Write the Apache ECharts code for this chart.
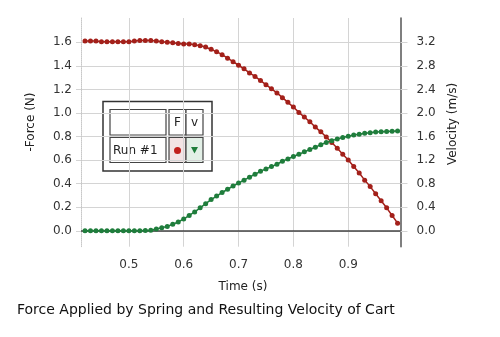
<!DOCTYPE html>
<html>
<head>
<meta charset="utf-8">
<script src="https://cdn.jsdelivr.net/npm/echarts@6/dist/echarts.min.js"></script>
<style>html,body{margin:0;padding:0;background:#fff}#c{width:500px;height:337px}</style>
</head>
<body>
<div id="c"></div>
<script>
const time = [0.42,0.43,0.44,0.45,0.46,0.47,0.48,0.49,0.50,0.51,0.52,0.53,0.54,0.55,0.56,0.57,0.58,0.59,0.60,0.61,0.62,0.63,0.64,0.65,0.66,0.67,0.68,0.69,0.70,0.71,0.72,0.73,0.74,0.75,0.76,0.77,0.78,0.79,0.80,0.81,0.82,0.83,0.84,0.85,0.86,0.87,0.88,0.89,0.90,0.91,0.92,0.93,0.94,0.95,0.96,0.97,0.98,0.99];
const force = [1.61,1.61,1.61,1.605,1.605,1.605,1.605,1.605,1.605,1.61,1.615,1.615,1.615,1.61,1.605,1.60,1.595,1.59,1.585,1.585,1.58,1.57,1.56,1.54,1.52,1.495,1.465,1.435,1.405,1.375,1.34,1.31,1.275,1.24,1.205,1.17,1.13,1.09,1.05,1.005,0.965,0.925,0.88,0.84,0.795,0.75,0.70,0.65,0.60,0.545,0.49,0.43,0.375,0.315,0.255,0.195,0.13,0.065];
const velocity = [0,0,0,0,0,0,0,0,0,0,0,0.005,0.01,0.03,0.05,0.075,0.11,0.15,0.20,0.26,0.32,0.39,0.46,0.53,0.59,0.65,0.705,0.76,0.81,0.86,0.91,0.96,1.01,1.05,1.09,1.13,1.18,1.22,1.26,1.30,1.34,1.38,1.42,1.46,1.50,1.53,1.56,1.585,1.605,1.625,1.64,1.655,1.665,1.675,1.68,1.685,1.69,1.695];
const xTicks = [0.5,0.6,0.7,0.8,0.9];
const forceTicks = [0,0.2,0.4,0.6,0.8,1.0,1.2,1.4,1.6];
const velTicks = [0,0.4,0.8,1.2,1.6,2.0,2.4,2.8,3.2];

const FONT = 'DejaVu Sans';
const RED = '#a3201a';
const GREEN = '#1f7d3c';
const GRID = '#d4d4d4';

const chart = echarts.init(document.getElementById('c'), null, {renderer: 'canvas'});
const fMin = -0.135, fMax = 1.806;
chart.setOption({
  animation: false,
  grid: {left: 81, right: 99.5, top: 18, bottom: 90.3, containLabel: false},
  xAxis: {
    type: 'value', min: 0.4127, max: 0.9953,
    axisLine: {show: true, lineStyle: {color: '#c8c8c8', type: 'dotted', width: 1}},
    axisTick: {show: true, customValues: xTicks, length: 5, lineStyle: {color: GRID}},
    axisLabel: {customValues: xTicks, margin: 12, fontFamily: FONT, fontSize: 12, color: '#333',
      formatter: v => v.toFixed(1)},
    splitLine: {show: true, lineStyle: {color: GRID, width: 1}}
  },
  yAxis: [{
    type: 'value', min: fMin, max: fMax, position: 'left',
    axisLine: {show: true, lineStyle: {color: '#c8c8c8', type: 'dotted', width: 1}},
    axisTick: {show: true, customValues: forceTicks, length: 5, lineStyle: {color: GRID}},
    axisLabel: {customValues: forceTicks, margin: 9, fontFamily: FONT, fontSize: 12, color: '#333',
      formatter: v => v.toFixed(1)},
    splitLine: {show: true, lineStyle: {color: GRID, width: 1}}
  }, {
    type: 'value', min: fMin * 2, max: fMax * 2, position: 'right',
    axisLine: {show: true, lineStyle: {color: '#555', width: 1.5}},
    axisTick: {show: true, customValues: velTicks, length: 7, lineStyle: {color: GRID}},
    axisLabel: {customValues: velTicks, margin: 16, fontFamily: FONT, fontSize: 12, color: '#333',
      formatter: v => v.toFixed(1)},
    splitLine: {show: false}
  }],
  series: [{
    name: 'F', type: 'line', yAxisIndex: 0,
    data: time.map((t, i) => [t, force[i]]),
    symbol: 'circle', symbolSize: 5, showSymbol: true,
    itemStyle: {color: RED}, lineStyle: {color: RED, width: 1.5},
    z: 3,
    markLine: {silent: true, symbol: 'none', label: {show: false},
      lineStyle: {color: '#444', width: 1.5, type: 'solid'}, data: [{yAxis: 0}], z: 1}
  }, {
    name: 'v', type: 'line', yAxisIndex: 1,
    data: time.map((t, i) => [t, velocity[i]]),
    symbol: 'circle', symbolSize: 5, showSymbol: true,
    itemStyle: {color: GREEN}, lineStyle: {color: GREEN, width: 1.5},
    z: 4
  }],
  graphic: [
    {type: 'text', rotation: Math.PI / 2, x: 31, y: 122,
      style: {text: '-Force (N)', font: '12px ' + FONT, fill: '#222', align: 'center', verticalAlign: 'middle'}},
    {type: 'text', rotation: Math.PI / 2, x: 453, y: 124,
      style: {text: 'Velocity (m/s)', font: '12px ' + FONT, fill: '#222', align: 'center', verticalAlign: 'middle'}},
    {type: 'text', x: 243, y: 287,
      style: {text: 'Time (s)', font: '12px ' + FONT, fill: '#222', align: 'center', verticalAlign: 'middle'}},
    {type: 'text', x: 17, y: 310,
      style: {text: 'Force Applied by Spring and Resulting Velocity of Cart', font: '14px ' + FONT, fill: '#111', align: 'left', verticalAlign: 'middle'}},
    {type: 'group', z: 100, children: [
      {type: 'rect', shape: {x: 103, y: 101.5, width: 109, height: 69.5}, style: {fill: '#fff', stroke: '#333', lineWidth: 1.5}},
      {type: 'rect', shape: {x: 110, y: 109.5, width: 56, height: 25.5}, style: {fill: '#fff', stroke: '#444', lineWidth: 1.2}},
      {type: 'rect', shape: {x: 110, y: 137.5, width: 56, height: 25}, style: {fill: '#fff', stroke: '#444', lineWidth: 1.2}},
      {type: 'rect', shape: {x: 169, y: 109.5, width: 17, height: 25.5}, style: {fill: '#fff', stroke: '#444', lineWidth: 1.2}},
      {type: 'rect', shape: {x: 186, y: 109.5, width: 17, height: 25.5}, style: {fill: '#fff', stroke: '#444', lineWidth: 1.2}},
      {type: 'rect', shape: {x: 169, y: 137.5, width: 17, height: 25}, style: {fill: '#f2e4e4', stroke: '#444', lineWidth: 1.2}},
      {type: 'rect', shape: {x: 186, y: 137.5, width: 17, height: 25}, style: {fill: '#e3f0e7', stroke: '#444', lineWidth: 1.2}},
      {type: 'text', x: 113, y: 150.5, style: {text: 'Run #1', font: '12px ' + FONT, fill: '#222', align: 'left', verticalAlign: 'middle'}},
      {type: 'text', x: 177.5, y: 122.5, style: {text: 'F', font: '12px ' + FONT, fill: '#222', align: 'center', verticalAlign: 'middle'}},
      {type: 'text', x: 194.5, y: 122.5, style: {text: 'v', font: '12px ' + FONT, fill: '#222', align: 'center', verticalAlign: 'middle'}},
      {type: 'circle', shape: {cx: 177.5, cy: 150.5, r: 3.5}, style: {fill: '#c0201c'}},
      {type: 'polygon', shape: {points: [[191, 147], [198, 147], [194.5, 153.5]]}, style: {fill: GREEN}}
    ]}
  ]
});
</script>
</body>
</html>
